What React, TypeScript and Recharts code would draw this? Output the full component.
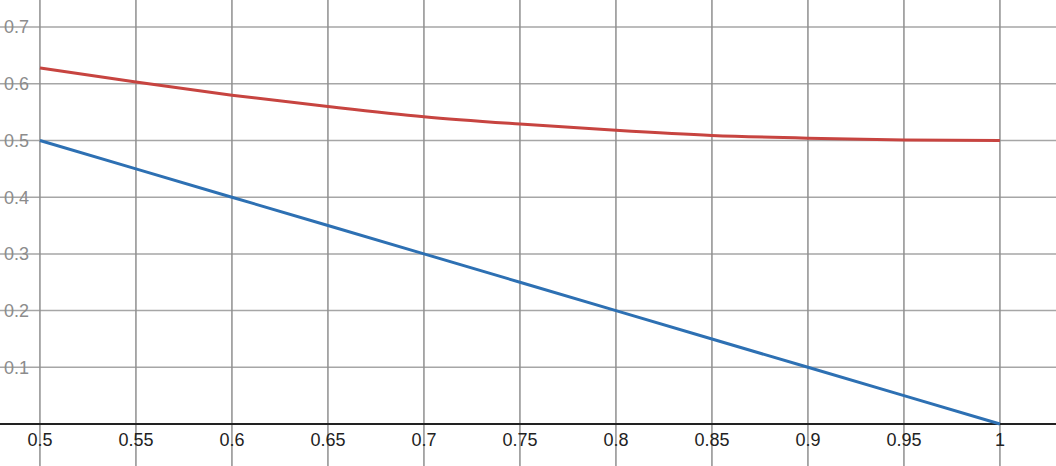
import React from 'react'
import { LineChart, Line, XAxis, YAxis, ReferenceLine, ReferenceDot } from 'recharts'

// x positions sampled along both curves
const xValues = [0.5, 0.55, 0.6, 0.65, 0.7, 0.75, 0.8, 0.85, 0.9, 0.95, 1]
// red curve
const redValues = [0.628, 0.603, 0.58, 0.56, 0.542, 0.529, 0.518, 0.509, 0.504, 0.501, 0.5]
// blue straight line
const blueValues = [0.5, 0.45, 0.4, 0.35, 0.3, 0.25, 0.2, 0.15, 0.1, 0.05, 0]

const xTicks = [0.5, 0.55, 0.6, 0.65, 0.7, 0.75, 0.8, 0.85, 0.9, 0.95, 1]
const xTickLabels = ['0.5', '0.55', '0.6', '0.65', '0.7', '0.75', '0.8', '0.85', '0.9', '0.95', '1']
const yTicks = [0.1, 0.2, 0.3, 0.4, 0.5, 0.6, 0.7]
const yTickLabels = ['0.1', '0.2', '0.3', '0.4', '0.5', '0.6', '0.7']

const xDomain = [0.4792, 1.0292]
const yDomain = [-0.0741, 0.7478]

const FONT = 'Arial, "Liberation Sans", sans-serif'

export default function App() {
  const data = xValues.map((x, i) => ({ x, red: redValues[i], blue: blueValues[i] }))

  return (
    <div style={{ position: 'fixed', left: 0, top: 0, width: 1056, height: 466, background: '#fff' }}>
      <LineChart width={1056} height={466} data={data} margin={{ top: 0, right: 0, bottom: 0, left: 0 }}>
        <XAxis type="number" dataKey="x" domain={xDomain} allowDataOverflow hide />
        <YAxis type="number" domain={yDomain} allowDataOverflow hide />

        {/* tick labels first so the grid runs over them */}
        {xTicks.map((v, i) => (
          <ReferenceDot
            key={`xl-${v}`}
            x={v}
            y={0}
            r={0}
            fill="none"
            stroke="none"
            label={{ value: xTickLabels[i], position: 'bottom', offset: 9, fill: '#222', fontSize: 18, fontFamily: FONT }}
          />
        ))}
        {yTicks.map((v, i) => (
          <ReferenceDot
            key={`yl-${v}`}
            x={0.5}
            y={v}
            r={0}
            fill="none"
            stroke="none"
            label={{ value: yTickLabels[i], position: 'left', offset: 11, fill: '#8c8c8c', fontSize: 18, fontFamily: FONT }}
          />
        ))}

        {yTicks.map(v => (
          <ReferenceLine key={`h-${v}`} y={v} stroke="#a6a6a6" strokeWidth={1.5} />
        ))}
        {xTicks.map(v => (
          <ReferenceLine key={`v-${v}`} x={v} stroke="#8f8f8f" strokeWidth={1.5} />
        ))}
        <ReferenceLine y={0} stroke="#222" strokeWidth={2} />

        <Line type="monotone" dataKey="red" stroke="#c74440" strokeWidth={3} dot={false} activeDot={false} isAnimationActive={false} />
        <Line type="linear" dataKey="blue" stroke="#2d70b3" strokeWidth={3} dot={false} activeDot={false} isAnimationActive={false} />
      </LineChart>
    </div>
  )
}
